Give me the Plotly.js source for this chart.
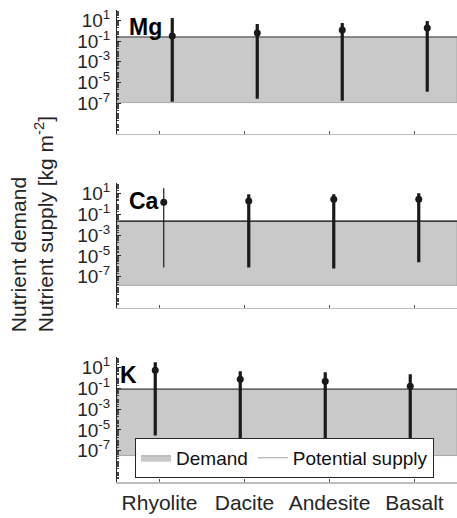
<!DOCTYPE html>
<html>
<head>
<meta charset="utf-8">
<script src="https://cdn.plot.ly/plotly-3.0.1.min.js"></script>
<style>html,body{margin:0;padding:0;background:#fff;}#chart{width:457px;height:518px;}</style>
</head>
<body>
<div id="chart"></div>
<script>
// ---- data (kg m^-2) ----
var rocks = ['Rhyolite', 'Dacite', 'Andesite', 'Basalt'];
var elements = ['Mg', 'Ca', 'K'];

var mgSupplyMin = [1.35e-7, 2.6e-7, 1.7e-7, 1.26e-6];
var mgSupplyMid = [0.31, 0.6, 1.17, 1.86];
var mgSupplyMax = [17, 4.5, 5.6, 8.7];
var mgDemand = [1.1e-7, 0.25];

var caSupplyMin = [7.9e-7, 7.9e-7, 6.3e-7, 2.5e-6];
var caSupplyMid = [1.5, 1.9, 2.9, 2.9];
var caSupplyMax = [33, 8.7, 8.7, 11];
var caDemand = [1.5e-8, 0.022];

var kSupplyMin = [3.0e-6, 1.0e-7, 1.0e-7, 1.0e-7];
var kSupplyMid = [5.6, 0.76, 0.49, 0.16];
var kSupplyMax = [33, 4.5, 3.5, 2.3];
var kDemand = [3.5e-8, 0.083];

var yTickVals = [10, 0.1, 1e-3, 1e-5, 1e-7];
var yTickText = ['10<sup>1</sup>', '10<sup>-1</sup>', '10<sup>-3</sup>', '10<sup>-5</sup>', '10<sup>-7</sup>'];

// ---- styling ----
var FONT = 'Liberation Sans, Arial, sans-serif';
var panels = [
  {name: 'Mg', min: mgSupplyMin, mid: mgSupplyMid, max: mgSupplyMax, dem: mgDemand, off: 0.15, thin: [], domain: [0.722, 0.979], lab: [0.030, 0.943], topLine: '#4a4a4a'},
  {name: 'Ca', min: caSupplyMin, mid: caSupplyMid, max: caSupplyMax, dem: caDemand, off: 0.05, thin: [0], domain: [0.361, 0.620], lab: [0.030, 0.584], topLine: '#111111'},
  {name: 'K',  min: kSupplyMin,  mid: kSupplyMid,  max: kSupplyMax,  dem: kDemand,  off: -0.05, thin: [], domain: [0.0, 0.259], lab: [0.004, 0.223], topLine: '#4a4a4a'}
];

var traces = [];
var layout = {
  width: 457, height: 518,
  margin: {l: 117, r: 0, t: 0, b: 36},
  paper_bgcolor: '#ffffff', plot_bgcolor: 'rgba(0,0,0,0)',
  font: {family: FONT, size: 19, color: '#262626'},
  showlegend: true,
  legend: {
    orientation: 'h', x: 0.053, y: 0.05, xanchor: 'left', yanchor: 'middle',
    bgcolor: '#ffffff', bordercolor: '#262626', borderwidth: 1,
    font: {family: FONT, size: 19, color: '#111'},
    tracegroupgap: 0, itemwidth: 30
  },
  annotations: []
};

var minorVals = [];
for (var e = -10; e < 2; e++) {
  for (var m = 2; m <= 9; m++) minorVals.push(m * Math.pow(10, e));
}

panels.forEach(function (p, i) {
  var xa = 'x' + (i === 0 ? '' : (i + 1));
  var ya = 'y' + (i === 0 ? '' : (i + 1));
  traces.push({
    type: 'scatter', mode: 'lines', xaxis: xa, yaxis: ya,
    x: [0.5, 4.5, 4.5, 0.5, 0.5],
    y: [p.dem[0], p.dem[0], p.dem[1], p.dem[1], p.dem[0]],
    fill: 'toself', fillcolor: '#c9c9c9',
    line: {color: '#a8a8a8', width: 1},
    name: 'Demand', showlegend: i === 2, hoverinfo: 'skip'
  });
  traces.push({
    type: 'scatter', mode: 'lines', xaxis: xa, yaxis: ya,
    x: [0.5, 4.5], y: [p.dem[1], p.dem[1]],
    line: {color: p.topLine, width: 1.2}, showlegend: false, hoverinfo: 'skip'
  });
  var xs = [], ys = [], xt = [], yt = [];
  rocks.forEach(function (r, j) {
    var xv = j + 1 + p.off;
    if (p.thin.indexOf(j) >= 0) {
      xt.push(xv, xv, null); yt.push(p.min[j], p.max[j], null);
    } else {
      xs.push(xv, xv, null); ys.push(p.min[j], p.max[j], null);
    }
  });
  traces.push({
    type: 'scatter', mode: 'lines', xaxis: xa, yaxis: ya,
    x: xs, y: ys, line: {color: '#1a1a1a', width: 3.2}, showlegend: false, hoverinfo: 'skip'
  });
  if (xt.length) {
    traces.push({
      type: 'scatter', mode: 'lines', xaxis: xa, yaxis: ya,
      x: xt, y: yt, line: {color: '#1a1a1a', width: 1.2}, showlegend: false, hoverinfo: 'skip'
    });
  }
  traces.push({
    type: 'scatter', mode: 'markers', xaxis: xa, yaxis: ya,
    x: rocks.map(function (r, j) { return j + 1 + p.off; }),
    y: p.mid, marker: {color: '#1a1a1a', size: 7}, showlegend: false
  });

  var xKey = 'xaxis' + (i === 0 ? '' : (i + 1));
  var yKey = 'yaxis' + (i === 0 ? '' : (i + 1));
  layout[xKey] = {
    anchor: ya, domain: [0, 1], range: [0.5, 4.5],
    tickmode: 'array', tickvals: [1, 2, 3, 4], ticktext: rocks,
    showticklabels: i === 2, ticks: 'inside', ticklen: 3, tickcolor: '#555',
    showline: true, linecolor: '#bdbdbd', linewidth: 1.5,
    showgrid: false, zeroline: false, fixedrange: true,
    tickfont: {family: FONT, size: 21, color: '#262626'}, ticklabelstandoff: 1
  };
  layout[yKey] = {
    anchor: xa, domain: p.domain, type: 'log', range: [-10, 2],
    tickmode: 'array', tickvals: yTickVals, ticktext: yTickText,
    ticks: 'inside', ticklen: 4, tickcolor: '#262626',
    minor: {tickmode: 'array', tickvals: minorVals, ticks: 'inside', ticklen: 2, tickcolor: '#444', showgrid: false},
    showline: true, linecolor: '#262626', linewidth: 1,
    showgrid: false, zeroline: false, fixedrange: true,
    tickfont: {family: FONT, size: 19, color: '#262626'}, ticklabelstandoff: 2
  };
  layout.annotations.push({
    xref: 'paper', yref: 'paper', x: p.lab[0], y: p.lab[1], xanchor: 'left', yanchor: 'middle',
    text: '<b>' + p.name + '</b>', showarrow: false,
    font: {family: FONT, size: 23, color: '#000'}
  });
});

traces.push({
  type: 'scatter', mode: 'lines', xaxis: 'x3', yaxis: 'y3',
  x: [null], y: [null], name: 'Potential supply',
  line: {color: '#a0a0a0', width: 1}, showlegend: true
});

layout.annotations.push({
  xref: 'paper', yref: 'paper', x: -0.25, y: 0.535, xanchor: 'center', yanchor: 'middle',
  textangle: -90, align: 'left', showarrow: false,
  text: 'Nutrient demand<br>Nutrient supply [kg m<sup>-2</sup>]',
  font: {family: FONT, size: 21, color: '#262626'}
});

Plotly.newPlot('chart', traces, layout, {displayModeBar: false, staticPlot: true});
</script>
</body>
</html>
